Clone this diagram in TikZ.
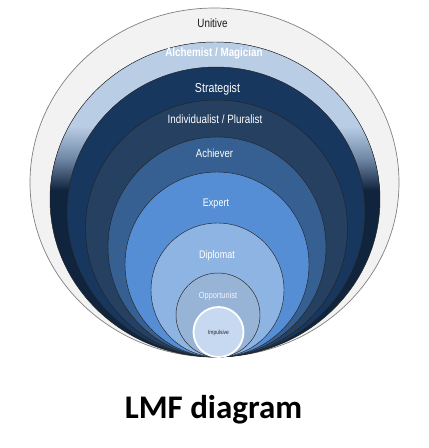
\documentclass[tikz,border=0pt]{standalone}
\usepackage{fontspec}
\setmainfont{Liberation Sans}
\newfontfamily\lblfont[FakeStretch=0.82]{Liberation Sans}
\newfontfamily\titlefont{Carlito}
\definecolor{cUnitive}{HTML}{F2F2F2}
\definecolor{cAlchLight}{HTML}{B9CDE5}
\definecolor{cAlchMid}{HTML}{7189A8}
\definecolor{cAlchDark}{HTML}{10243E}
\definecolor{cStrat}{HTML}{17375E}
\definecolor{cIndiv}{HTML}{254061}
\definecolor{cAchiever}{HTML}{376092}
\definecolor{cExpert}{HTML}{558ED5}
\definecolor{cDiplomat}{HTML}{8EB4E3}
\definecolor{cOpport}{HTML}{97B3D6}
\definecolor{cImpulsive}{HTML}{C6D9F1}
\definecolor{cOutline}{HTML}{222222}
\begin{document}
\begin{tikzpicture}[x=1pt,y=-1pt,
  ring/.style={draw=cOutline, line width=0.45pt},
  lbl/.style={text=white, inner sep=0pt, font=\lblfont\fontsize{12}{14}\selectfont}]
\useasboundingbox[fill=white] (0,0) rectangle (429,448);
% Unitive
\path[fill=cUnitive, draw=black!50, line width=0.7pt] (214.5,182.5) ellipse [x radius=184.5pt, y radius=174.5pt];
% Alchemist / Magician (gradient ring)
\begin{scope}
  \clip (215,199.5) ellipse [x radius=165pt, y radius=157.5pt];
  \fill[cAlchDark] (0,0) rectangle (429,448);
  \fill[cAlchLight] (0,0) rectangle (429,126);
  \shade[top color=cAlchLight, bottom color=cAlchDark, middle color=cAlchMid] (0,126) rectangle (429,190);
\end{scope}
\path[ring] (215,199.5) ellipse [x radius=165pt, y radius=157.5pt];
% Strategist
\path[ring, fill=cStrat] (216,212) ellipse [x radius=149pt, y radius=145pt];
% Individualist
\path[ring, fill=cIndiv] (216.5,228.5) ellipse [x radius=131pt, y radius=128.5pt];
% Achiever
\path[ring, fill=cAchiever] (217,247) ellipse [x radius=109pt, y radius=110pt];
% Expert
\path[ring, fill=cExpert] (217,264.5) ellipse [x radius=92pt, y radius=92.5pt];
% Diplomat
\path[ring, fill=cDiplomat] (217.5,290) ellipse [x radius=66.5pt, y radius=67pt];
% Opportunist
\path[ring, fill=cOpport] (218,315) ellipse [x radius=42pt, y radius=42pt];
% Impulsive
\path[fill=cImpulsive, draw=white, line width=1.8pt] (218.5,332) circle [radius=25pt];

\node[lbl, text=black!90] (unitive) at (212.5,23) {Unitive};
\node[lbl, font=\lblfont\fontsize{12}{14}\selectfont\bfseries] (alchemist) at (214,53) {Alchemist / Magician};
\node[lbl, font=\lblfont\fontsize{13}{15}\selectfont] (strategist) at (217.5,89) {Strategist};
\node[lbl] (individualist) at (215,119) {Individualist / Pluralist};
\node[lbl, font=\lblfont\fontsize{11.6}{14}\selectfont] (achiever) at (214.5,153) {Achiever};
\node[lbl, font=\lblfont\fontsize{11}{13}\selectfont] (expert) at (216,204) {Expert};
\node[lbl, font=\lblfont\fontsize{11}{13}\selectfont] (diplomat) at (217,256) {Diplomat};
\node[lbl, text=white!88!cOpport, font=\lblfont\fontsize{9}{11}\selectfont] (opportunist) at (218,296) {Opportunist};
\node[lbl, text=black!85, font=\lblfont\fontsize{6}{7}\selectfont] (impulsive) at (218.5,333) {Impulsive};

\node[inner sep=0pt, font=\titlefont\bfseries\fontsize{33}{36}\selectfont] (title) at (213.5,410) {LMF diagram};
\end{tikzpicture}
\end{document}
